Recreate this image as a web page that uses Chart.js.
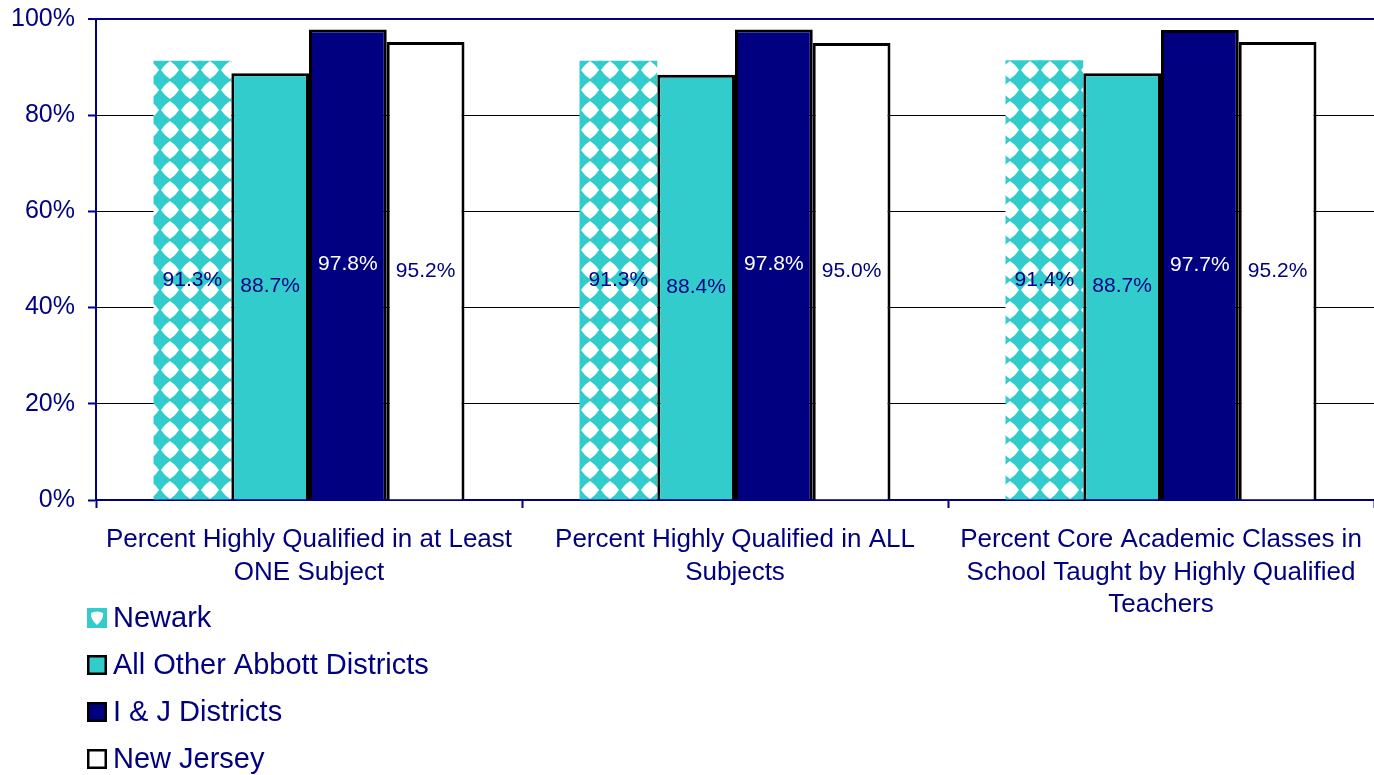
<!DOCTYPE html>
<html>
<head>
<meta charset="utf-8">
<script src="https://cdn.jsdelivr.net/npm/chart.js@4.4.1/dist/chart.umd.min.js"></script>
<style>
  html, body { margin: 0; padding: 0; background: #ffffff; }
  #wrap { position: relative; width: 1374px; height: 775px; }
</style>
</head>
<body>
<div id="wrap"><canvas id="c" width="1374" height="775"></canvas></div>
<script>
const categories = [
  ["Percent Highly Qualified in at Least", "ONE Subject"],
  ["Percent Highly Qualified in ALL", "Subjects"],
  ["Percent Core Academic Classes in", "School Taught by Highly Qualified", "Teachers"]
];
const seriesNames = ["Newark", "All Other Abbott Districts", "I & J Districts", "New Jersey"];
const newark = [91.3, 91.3, 91.4];
const abbott = [88.7, 88.4, 88.7];
const ijDistricts = [97.8, 97.8, 97.7];
const newJersey = [95.2, 95.0, 95.2];
const yTickValues = [0, 20, 40, 60, 80, 100];

const NAVY = '#000080';
const TEAL = '#33CCCC';
const FONT = '"Liberation Sans", Arial, Helvetica, sans-serif';

function makePattern() {
  const p = document.createElement('canvas');
  p.width = 20; p.height = 20;
  const g = p.getContext('2d');
  g.fillStyle = TEAL;
  g.fillRect(0, 0, 20, 20);
  g.fillStyle = '#ffffff';
  g.beginPath();
  g.moveTo(10, 1);
  g.quadraticCurveTo(15.5, 4.5, 19, 10);
  g.quadraticCurveTo(15.5, 15.5, 10, 19);
  g.quadraticCurveTo(4.5, 15.5, 1, 10);
  g.quadraticCurveTo(4.5, 4.5, 10, 1);
  g.closePath();
  g.fill();
  return g.createPattern(p, 'repeat');
}
const ctx = document.getElementById('c').getContext('2d');
const pattern = makePattern();

const valueLabelPlugin = {
  id: 'valueLabels',
  afterDatasetsDraw(chart) {
    const c = chart.ctx;
    c.save();
    c.font = '21px ' + FONT;
    c.textAlign = 'center';
    c.textBaseline = 'middle';
    chart.data.datasets.forEach((ds, di) => {
      const meta = chart.getDatasetMeta(di);
      meta.data.forEach((bar, i) => {
        const p = bar.getProps(['x', 'y', 'base'], true);
        c.fillStyle = ds.labelColor;
        c.fillText(ds.data[i].toFixed(1) + '%', p.x, (p.y + p.base) / 2);
      });
    });
    c.restore();
  }
};

const legendPlugin = {
  id: 'customLegend',
  afterDraw(chart) {
    const c = chart.ctx;
    c.save();
    c.font = '29px ' + FONT;
    c.textBaseline = 'middle';
    c.textAlign = 'left';
    chart.data.datasets.forEach((ds, i) => {
      const cy = 618 + 47 * i;
      const bx = 87, by = cy - 10, s = 20;
      if (i === 0) {
        c.fillStyle = TEAL;
        c.fillRect(bx, by, s, s);
        c.fillStyle = '#ffffff';
        c.beginPath();
        c.moveTo(bx + 4, by + 5);
        c.quadraticCurveTo(bx + 10, by + 2, bx + 16, by + 5);
        c.quadraticCurveTo(bx + 17, by + 11, bx + 10, by + 17);
        c.quadraticCurveTo(bx + 3, by + 11, bx + 4, by + 5);
        c.fill();
      } else {
        c.fillStyle = ds.backgroundColor;
        c.fillRect(bx, by, s, s);
        c.strokeStyle = '#000000';
        c.lineWidth = 2.5;
        c.strokeRect(bx + 1.25, by + 1.25, s - 2.5, s - 2.5);
      }
      c.fillStyle = NAVY;
      c.fillText(ds.label, 113, cy + 1);
    });
    c.restore();
  }
};

new Chart(ctx, {
  type: 'bar',
  data: {
    labels: categories,
    datasets: [
      { label: seriesNames[0], data: newark, backgroundColor: pattern, borderWidth: 0, labelColor: NAVY },
      { label: seriesNames[1], data: abbott, backgroundColor: TEAL, borderColor: '#000000', borderWidth: 3, labelColor: NAVY },
      { label: seriesNames[2], data: ijDistricts, backgroundColor: NAVY, borderColor: '#000000', borderWidth: 3, labelColor: '#ffffff' },
      { label: seriesNames[3], data: newJersey, backgroundColor: '#ffffff', borderColor: '#000000', borderWidth: 3, labelColor: NAVY }
    ]
  },
  options: {
    responsive: false,
    animation: false,
    devicePixelRatio: 1,
    layout: { padding: { top: 19, right: 0, left: 0, bottom: 0 } },
    datasets: { bar: { categoryPercentage: 0.73, barPercentage: 1.0 } },
    plugins: {
      legend: { display: false },
      tooltip: { enabled: false },
      title: { display: false }
    },
    scales: {
      x: {
        afterFit(axis) { axis.height = 275; axis.paddingLeft = 0; axis.paddingRight = 0; },
        grid: { display: true, drawOnChartArea: false, offset: true, tickLength: 8, tickColor: NAVY, tickWidth: 2 },
        border: { display: true, color: NAVY, width: 2 },
        ticks: {
          color: NAVY,
          font: { family: FONT, size: 26, lineHeight: 1.25 },
          padding: 16,
          maxRotation: 0,
          autoSkip: false
        }
      },
      y: {
        min: 0,
        max: 100,
        afterFit(axis) { axis.width = 96; axis.paddingTop = 0; axis.paddingBottom = 0; },
        afterBuildTicks(axis) { axis.ticks = yTickValues.map(v => ({ value: v })); },
        grid: {
          color: (c) => (c.tick && c.tick.value === 100) ? NAVY : '#000000',
          lineWidth: (c) => (c.tick && c.tick.value === 100) ? 2 : 1,
          tickColor: NAVY,
          tickLength: 8,
          tickWidth: 2
        },
        border: { display: true, color: NAVY, width: 2 },
        ticks: {
          color: NAVY,
          font: { family: FONT, size: 25 },
          padding: 13,
          callback: (v) => v + '%'
        }
      }
    }
  },
  plugins: [valueLabelPlugin, legendPlugin]
});
</script>
</body>
</html>
